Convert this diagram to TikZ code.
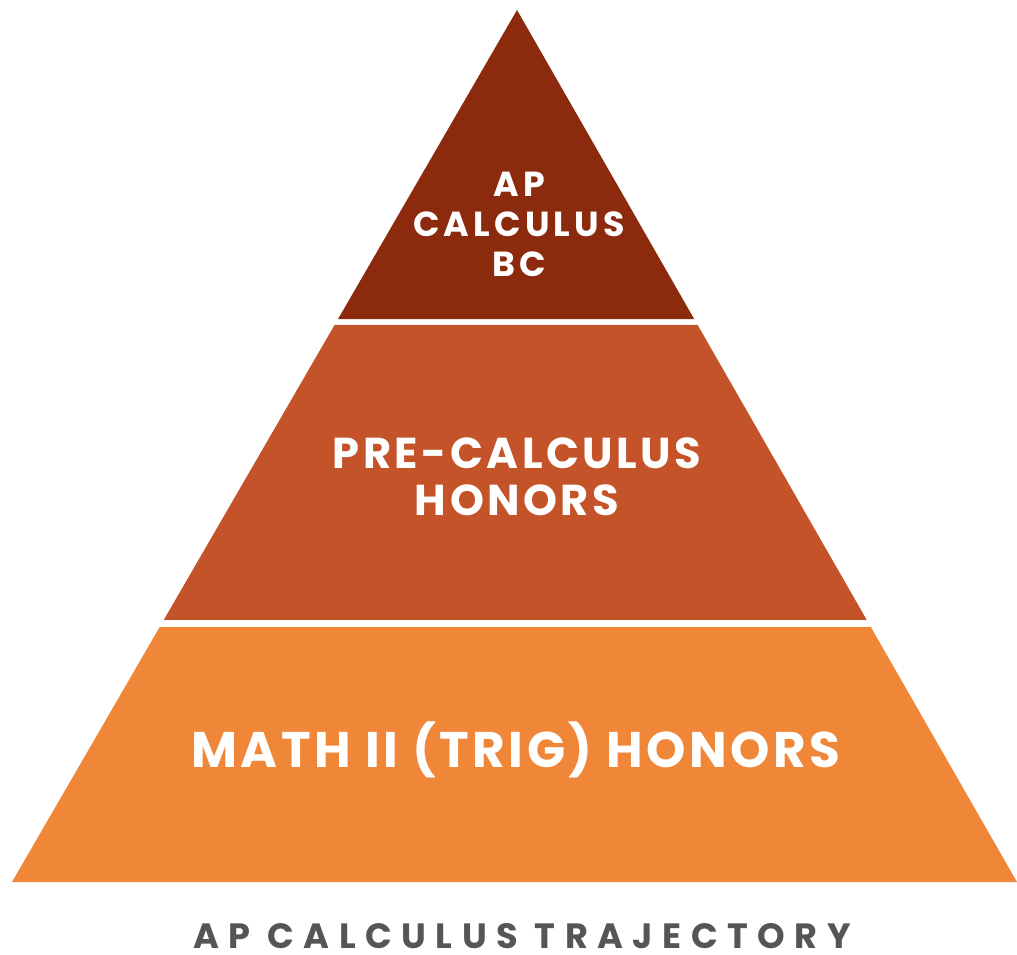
\documentclass[tikz,border=0pt]{standalone}
\usepackage{fontspec}
\setmainfont{Poppins}
\usetikzlibrary{positioning, calc}

\definecolor{bandtop}{HTML}{8C2A0E}
\definecolor{bandmid}{HTML}{C4532A}
\definecolor{bandlow}{HTML}{EF8638}
\definecolor{titlegrey}{HTML}{555555}

\tikzset{
  bandtext/.style={text=white, align=center},
  titletext/.style={text=titlegrey, inner sep=0pt, font=\bfseries\fontsize{20}{22}\selectfont\addfontfeatures{LetterSpace=27}}
}

\begin{document}
\begin{tikzpicture}[x=0.02cm, y=-0.02cm]
        \useasboundingbox (0,0) rectangle (1017,955);

        % Pyramid corners
        \coordinate (apex) at (517,10);
        \coordinate (baseL) at (12,882);
        \coordinate (baseR) at (1017,882);

        % Bands, with white gaps between them
        \fill[bandtop] (apex) -- ($(apex)!0.3544!(baseR)$) -- ($(apex)!0.3544!(baseL)$) -- cycle;
        \foreach \a/\b/\col in {0.3612/0.6995/bandmid, 0.7076/1/bandlow} {
          \fill[\col] ($(apex)!\a!(baseL)$) -- ($(apex)!\a!(baseR)$) -- ($(apex)!\b!(baseR)$) -- ($(apex)!\b!(baseL)$) -- cycle;
        }

        % Course names
        \node[bandtext, font=\bfseries\fontsize{19.8}{22.7}\selectfont\addfontfeatures{LetterSpace=12}] (calcbc) at (519,224) {AP\\CALCULUS\\BC};
        \node[bandtext, font=\bfseries\fontsize{24.6}{26.6}\selectfont\addfontfeatures{LetterSpace=8}] (precalc) at (517,477) {PRE-CALCULUS\\HONORS};
        \node[bandtext, font=\bfseries\fontsize{28.5}{32}\selectfont\addfontfeatures{LetterSpace=7}] (trig) at (516,750) {MATH II (TRIG) HONORS};

        \node[titletext] (title) at (522,936) {AP CALCULUS TRAJECTORY};
      \end{tikzpicture}
\end{document}
